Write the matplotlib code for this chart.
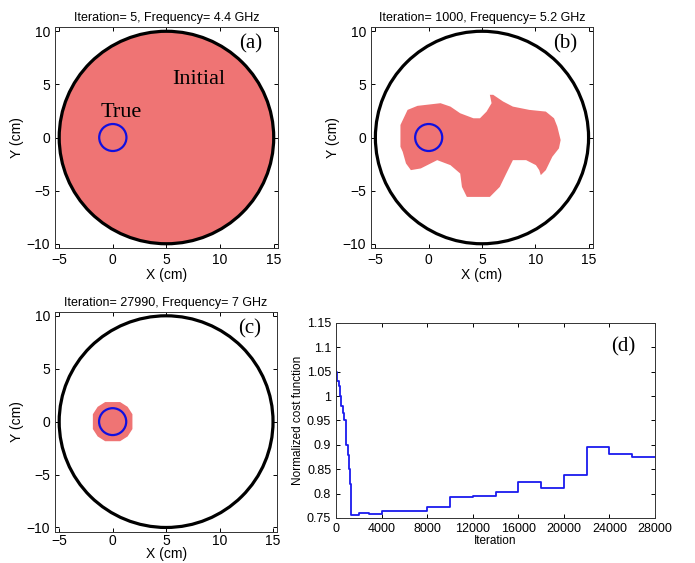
import matplotlib
matplotlib.use('Agg')
import matplotlib.pyplot as plt
from matplotlib.patches import Circle, Polygon

plt.rcParams['font.family'] = ['Liberation Sans', 'DejaVu Sans']
plt.rcParams['hatch.linewidth'] = 0.5
plt.rcParams['hatch.color'] = '#f6a4a4'

# domain and target
DOMINIO_CENTRO = (5, 0)
DOMINIO_RAIO = 10
ALVO_CENTRO = (0, 0)
ALVO_RAIO = 1.27

TITULOS = ["Iteration= 5, Frequency= 4.4 GHz",
           "Iteration= 1000, Frequency= 5.2 GHz",
           "Iteration= 27990, Frequency= 7 GHz"]
ROTULOS = ["(a)", "(b)", "(c)"]

# reconstructed shape at iteration 1000 (boundary, cm)
FORMA_B_X = [-2.65, -2.65, -1.98, -1.05, 1.11, 2.04, 2.96, 4.2, 4.81, 5.43, 5.9, 5.74, 6.05, 6.98,
             7.9, 9.44, 10.99, 11.76, 12.07, 12.38, 12.22, 11.6, 10.99, 10.52, 10.37, 10.06, 9.14,
             7.9, 7.28, 6.67, 5.74, 3.58, 3.12, 2.96, 2.04, 0.8, -0.74, -1.67, -2.13, -2.44]
FORMA_B_Y = [-0.87, 1.18, 2.6, 2.98, 3.23, 2.91, 2.28, 1.81, 1.81, 2.44, 3.23, 4.02, 4.02, 3.39,
             2.91, 2.6, 2.44, 1.81, 1.02, -0.24, -1.02, -1.81, -3.07, -3.54, -3.07, -2.6, -2.13,
             -2.13, -3.39, -4.65, -5.59, -5.59, -4.65, -3.39, -2.6, -2.13, -2.91, -3.07, -2.44, -1.34]

# reconstructed shape at iteration 27990
FORMA_C_X = [-1.85, -1.85, -1.4, -0.7, 0.7, 1.4, 1.85, 1.85, 1.4, 0.7, -0.7, -1.4]
FORMA_C_Y = [-0.7, 0.7, 1.4, 1.85, 1.85, 1.4, 0.7, -0.7, -1.4, -1.85, -1.85, -1.4]

# cost function curve
ITERACOES = [0, 20, 60, 100, 290, 350, 450, 580, 730, 880, 1020, 1140, 1260, 1300, 1320,
             1960, 2000, 2800, 2900, 4000, 8000, 10000, 11400, 12000, 14000, 16000, 18000,
             20000, 22000, 24000, 26000, 28000]
CUSTO = [1.10, 1.05, 1.035, 1.03, 1.02, 1.0, 0.98, 0.965, 0.95, 0.9, 0.88, 0.85, 0.82, 0.815,
         0.756, 0.756, 0.760, 0.761, 0.759, 0.765, 0.772, 0.792, 0.794, 0.796, 0.803, 0.824,
         0.811, 0.838, 0.896, 0.882, 0.874, 0.874]

VERMELHO = '#ef7474'


def estilo_eixo(ax):
    ax.tick_params(direction='in', top=True, right=True, labelsize=10, length=3, width=0.7)
    for s in ax.spines.values():
        s.set_linewidth(0.7)
        s.set_color('#333333')


def painel_dominio(ax, i, forma, pad_x=1):
    if forma == 'cheio':
        ax.add_patch(Circle(DOMINIO_CENTRO, DOMINIO_RAIO, facecolor=VERMELHO, edgecolor='none', hatch='++++'))
    elif forma is not None:
        ax.add_patch(Polygon(list(zip(*forma)), closed=True, facecolor=VERMELHO, edgecolor='none', hatch='++++'))
    ax.add_patch(Circle(DOMINIO_CENTRO, DOMINIO_RAIO, fill=False, edgecolor='black', linewidth=2.3))
    ax.add_patch(Circle(ALVO_CENTRO, ALVO_RAIO, fill=False, edgecolor='#1010e0', linewidth=1.6))
    ax.set_xlim(-5.4, 15.4)
    ax.set_ylim(-10.4, 10.4)
    ax.set_xticks([-5, 0, 5, 10, 15])
    ax.set_yticks([-10, -5, 0, 5, 10])
    ax.set_xlabel('X (cm)', fontsize=10, labelpad=pad_x)
    ax.set_ylabel('Y (cm)', fontsize=10, labelpad=2)
    ax.set_title(TITULOS[i], fontsize=9, pad=4)
    ax.text(13.9, 8.8, ROTULOS[i], fontsize=15, family='Liberation Serif', ha='right', va='center')
    estilo_eixo(ax)


fig = plt.figure(figsize=(6.95, 5.63), dpi=100)
ax_a = fig.add_axes([0.079, 0.5595, 0.321, 0.3925])
ax_b = fig.add_axes([0.534, 0.5595, 0.319, 0.3925])
ax_c = fig.add_axes([0.079, 0.0556, 0.320, 0.3910])
ax_d = fig.add_axes([0.4835, 0.080, 0.459, 0.3465])

painel_dominio(ax_a, 0, 'cheio')
ax_a.text(5.5, 5.5, 'Initial', fontsize=16, family='Liberation Serif', ha='left', va='center')
ax_a.text(-1.1, 2.4, 'True', fontsize=16, family='Liberation Serif', ha='left', va='center')
painel_dominio(ax_b, 1, (FORMA_B_X, FORMA_B_Y))
painel_dominio(ax_c, 2, (FORMA_C_X, FORMA_C_Y), pad_x=-1)
ax_c.tick_params(axis='x', pad=2)

ax_d.step(ITERACOES, CUSTO, where='post', color='#1a1aee', linewidth=1.3)
ax_d.set_xlim(0, 28000)
ax_d.set_ylim(0.75, 1.15)
ax_d.set_xticks(range(0, 28001, 4000))
ax_d.set_yticks([0.75, 0.8, 0.85, 0.9, 0.95, 1, 1.05, 1.1, 1.15])
ax_d.set_yticklabels(['0.75', '0.8', '0.85', '0.9', '0.95', '1', '1.05', '1.1', '1.15'])
ax_d.set_xlabel('Iteration', fontsize=8.5, labelpad=0)
ax_d.set_ylabel('Normalized cost function', fontsize=8.5, labelpad=2)
ax_d.text(26300, 1.1, '(d)', fontsize=15, family='Liberation Serif', ha='right', va='center')
estilo_eixo(ax_d)
ax_d.tick_params(labelsize=9)

fig.savefig('out.png', dpi=100)
